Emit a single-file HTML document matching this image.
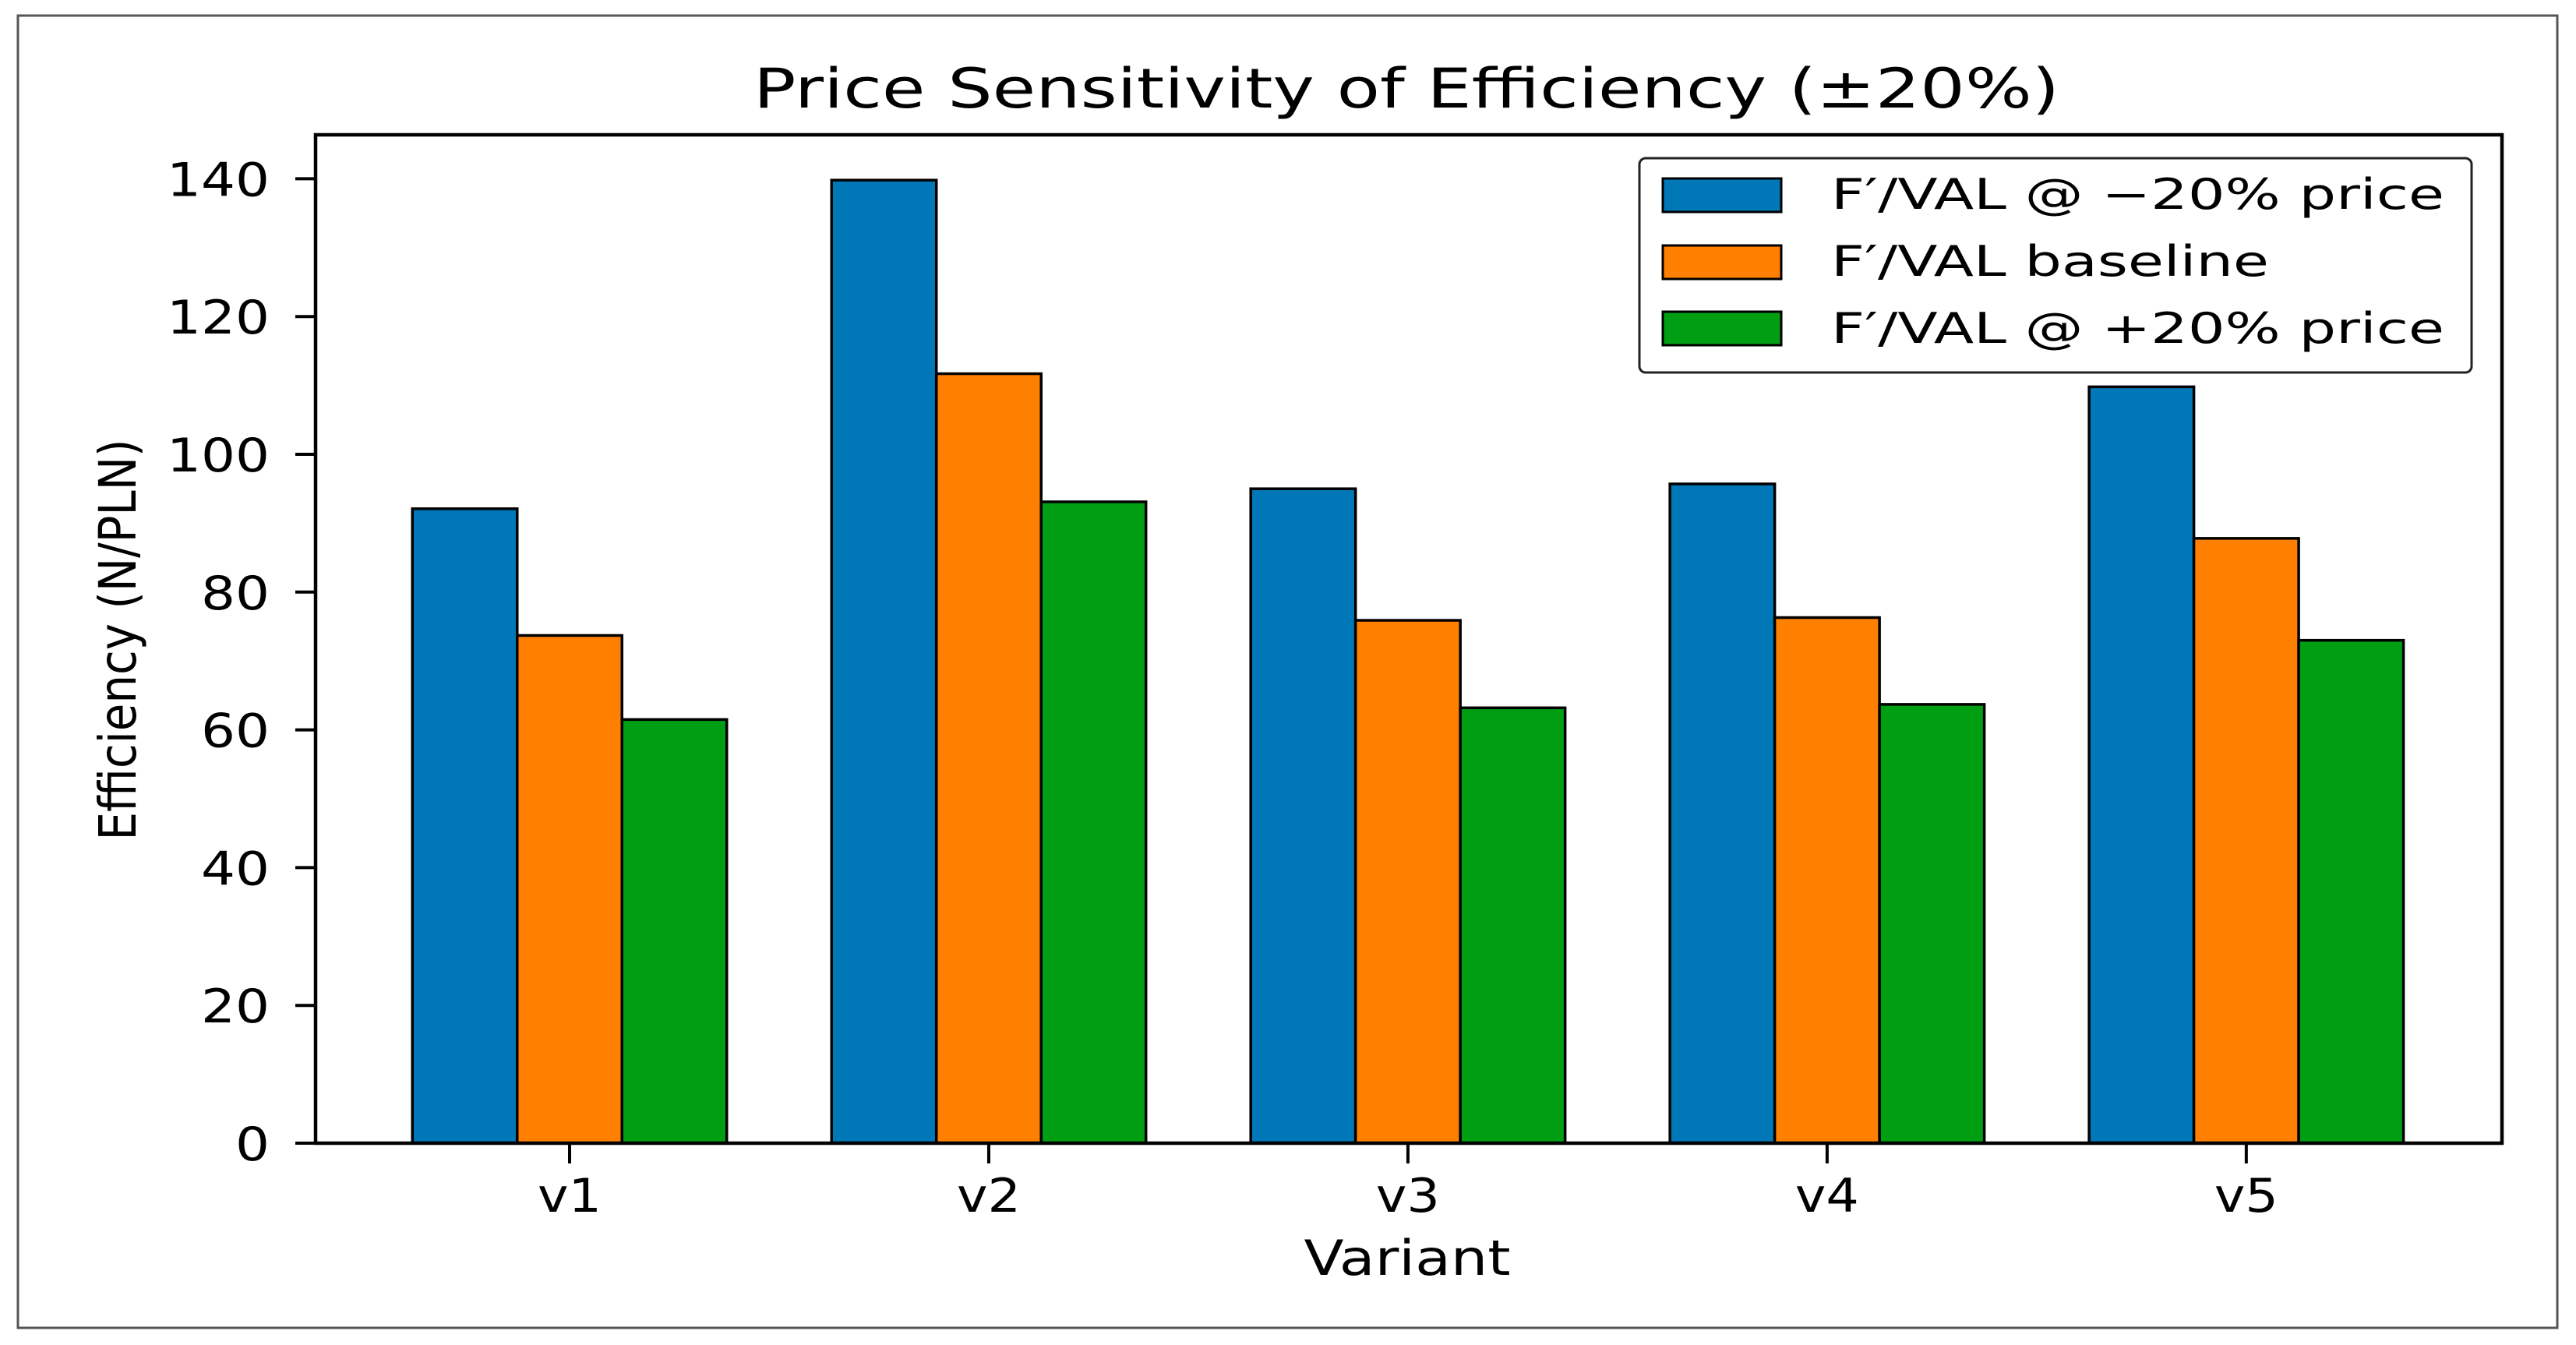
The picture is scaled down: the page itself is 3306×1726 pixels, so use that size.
<!DOCTYPE html>
<html><head><meta charset="utf-8"><style>
html,body{margin:0;padding:0;background:#fff;}
svg{display:block;}
text{font-family:"DejaVu Sans","Liberation Sans",sans-serif;fill:#000;}
</style></head><body>
<svg id="chart" width="3306" height="1726" viewBox="0 0 3306 1726" xmlns="http://www.w3.org/2000/svg">
<rect x="23" y="20" width="3259" height="1684" fill="#fff" stroke="#555" stroke-width="3"/>
<text x="1805" y="138" font-size="70" text-anchor="middle" textLength="1676" lengthAdjust="spacingAndGlyphs">Price Sensitivity of Efficiency (±20%)</text>
<g id="bars"></g>
<g id="axes"></g>
<text x="1806" y="1636" font-size="62" text-anchor="middle" textLength="265" lengthAdjust="spacingAndGlyphs">Variant</text>
<text transform="translate(174,821) rotate(-90)" font-size="66" text-anchor="middle" textLength="515" lengthAdjust="spacingAndGlyphs">Efficiency (N/PLN)</text>
<g>
<rect x="2104" y="203" width="1068" height="275" rx="8" fill="#fff" stroke="#222" stroke-width="3"/>
<g>
<rect x="2134" y="229" width="152" height="43" fill="#0077b6" stroke="#000" stroke-width="3"/>
<text x="2350" y="268" font-size="54" textLength="787" lengthAdjust="spacingAndGlyphs">F′/VAL @ −20% price</text>
</g>
<g>
<rect x="2134" y="315" width="152" height="43" fill="#ff8000" stroke="#000" stroke-width="3"/>
<text x="2350" y="354" font-size="54" textLength="562" lengthAdjust="spacingAndGlyphs">F′/VAL baseline</text>
</g>
<g>
<rect x="2134" y="400" width="152" height="43" fill="#009e13" stroke="#000" stroke-width="3"/>
<text x="2350" y="440" font-size="54" textLength="787" lengthAdjust="spacingAndGlyphs">F′/VAL @ +20% price</text>
</g>
</g>
</svg>
<script>
const categories = ["v1","v2","v3","v4","v5"];
const seriesMinus20 = [92.1, 139.8, 95.0, 95.7, 109.8];
const seriesBaseline = [73.7, 111.7, 75.9, 76.3, 87.8];
const seriesPlus20 = [61.5, 93.1, 63.2, 63.7, 73.0];
const yTicks = [0,20,40,60,80,100,120,140];
const seriesNames = ["minus20","baseline","plus20"];

const NS = "http://www.w3.org/2000/svg";
const L = 405, R = 3211, T = 173, B = 1467;
const xMin = -0.606, xMax = 4.61, yMax = (B - T) / 8.84;
function xs(v){ return L + (v - xMin) / (xMax - xMin) * (R - L); }
function ys(v){ return B - v / yMax * (B - T); }
const colors = ["#0077b6","#ff8000","#009e13"];
const all = [seriesMinus20, seriesBaseline, seriesPlus20];
const barW = 0.25;
const gb = document.getElementById("bars");
all.forEach((s, si) => {
  s.forEach((v, i) => {
    const r = document.createElementNS(NS, "rect");
    const x0 = xs(i + (si - 1.5) * barW);
    const x1 = xs(i + (si - 0.5) * barW);
    r.setAttribute("x", x0);
    r.setAttribute("y", ys(v));
    r.setAttribute("width", x1 - x0);
    r.setAttribute("height", ys(0) - ys(v));
    r.setAttribute("fill", colors[si]);
    r.setAttribute("stroke", "#000");
    r.setAttribute("stroke-width", "3.5");
    
    
    gb.appendChild(r);
  });
});
const ga = document.getElementById("axes");
const frame = document.createElementNS(NS, "rect");
frame.setAttribute("x", L); frame.setAttribute("y", T);
frame.setAttribute("width", R - L); frame.setAttribute("height", B - T);
frame.setAttribute("fill", "none"); frame.setAttribute("stroke", "#000"); frame.setAttribute("stroke-width", "4.5");


ga.appendChild(frame);
yTicks.forEach(t => {
  const y = ys(t);
  const ln = document.createElementNS(NS, "line");
  ln.setAttribute("x1", L - 26); ln.setAttribute("x2", L);
  ln.setAttribute("y1", y); ln.setAttribute("y2", y);
  ln.setAttribute("stroke", "#000"); ln.setAttribute("stroke-width", "4");
  
  
  ga.appendChild(ln);
  const tx = document.createElementNS(NS, "text");
  tx.setAttribute("x", 346); tx.setAttribute("y", y + 22);
  tx.setAttribute("font-size", "60"); tx.setAttribute("text-anchor", "end");
  const s = String(t);
  tx.setAttribute("textLength", 44 * s.length);
  tx.setAttribute("lengthAdjust", "spacingAndGlyphs");
  tx.textContent = s;
  
  
  ga.appendChild(tx);
});
categories.forEach((c, i) => {
  const x = xs(i);
  const ln = document.createElementNS(NS, "line");
  ln.setAttribute("x1", x); ln.setAttribute("x2", x);
  ln.setAttribute("y1", B); ln.setAttribute("y2", B + 26);
  ln.setAttribute("stroke", "#000"); ln.setAttribute("stroke-width", "4");
  
  
  ga.appendChild(ln);
  const tx = document.createElementNS(NS, "text");
  tx.setAttribute("x", x); tx.setAttribute("y", 1555);
  tx.setAttribute("font-size", "60"); tx.setAttribute("text-anchor", "middle");
  tx.setAttribute("textLength", "82"); tx.setAttribute("lengthAdjust", "spacingAndGlyphs");
  tx.textContent = c;
  
  
  ga.appendChild(tx);
});
</script>
</body></html>
